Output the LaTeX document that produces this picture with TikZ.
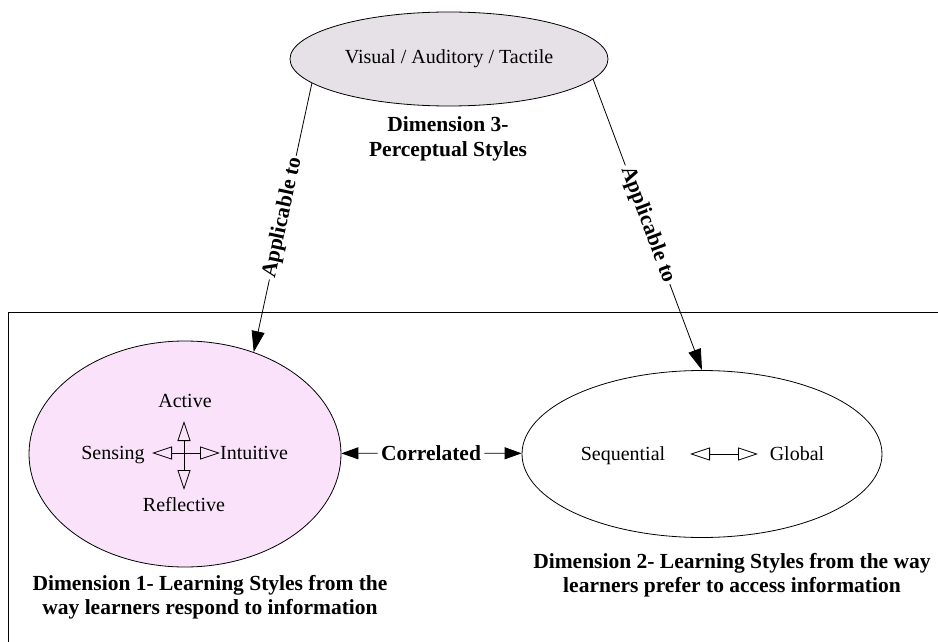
\documentclass[tikz,border=0pt]{standalone}
\usepackage{fontspec}
\setmainfont{Liberation Serif}
\usetikzlibrary{shapes.geometric,arrows.meta}

\definecolor{greyfill}{RGB}{230,225,230}
\definecolor{pinkfill}{RGB}{250,226,250}

\tikzset{
  concept/.style={ellipse, draw, line width=0.8pt, inner sep=0pt},
  caption/.style={font=\fontsize{21.5}{24.5}\selectfont\bfseries, align=center},
  term/.style={font=\fontsize{20}{24}\selectfont, text height=13.5pt, text depth=4.5pt},
  link/.style={line width=0.8pt, -{Triangle[length=21pt,width=13pt]}},
  shortlink/.style={line width=0.8pt, -{Triangle[length=17pt,width=12pt]}},
  pair/.style={line width=0.8pt,
    {Triangle[open,length=20pt,width=13pt]}-{Triangle[open,length=20pt,width=13pt]}}
}

\begin{document}
\begin{tikzpicture}[x=1pt,y=-1pt]
  \useasboundingbox (0,0) rectangle (938,642);

  % frame round dimensions 1 and 2
  \draw [line width=0.9pt] (8,642) |- (938,312);

  % dimension 3
  \node (vat) [concept, fill=greyfill, minimum width=318pt, minimum height=94pt, term]
    at (449,59) {Visual / Auditory / Tactile};
  \node (dim3) [caption] at (448,139) {Dimension 3-\\Perceptual Styles};

  % dimension 1
  \node (dim1) [concept, fill=pinkfill, minimum width=312pt, minimum height=226pt] at (185,454) {};
  \coordinate (crossW) at (152,453);
  \coordinate (crossE) at (220,453);
  \coordinate (crossN) at (184,421);
  \coordinate (crossS) at (184,490);
  \draw [pair] (crossW) -- (crossE);
  \draw [pair] (crossN) -- (crossS);
  \node (active) [term] at (185,403) {Active};
  \node (sensing) [term] at (113,455) {Sensing};
  \node (intuitive) [term] at (254,455) {Intuitive};
  \node (reflective) [term] at (184,507) {Reflective};
  \node (dim1label) [caption] at (210,597)
    {Dimension 1- Learning Styles from the\\way learners respond to information};

  % dimension 2
  \node (dim2) [concept, minimum width=360pt, minimum height=167pt] at (702,454) {};
  \coordinate (seqW) at (690,454);
  \coordinate (seqE) at (758,454);
  \draw [pair] (seqW) -- (seqE);
  \node (sequential) [term] at (623,456) {Sequential};
  \node (global) [term] at (797,456) {Global};
  \node (dim2label) [caption] at (732,575)
    {Dimension 2- Learning Styles from the way\\learners prefer to access information};

  % links
  \node (corr) [caption] at (431,453) {Correlated};
  \draw [shortlink] (corr) -- (dim1);
  \draw [shortlink] (corr) -- (dim2);

  \draw [link] (vat.190) -- node [caption, sloped, fill=white, inner sep=2pt] {Applicable to} (dim1.56);
  \draw [link] (vat.352) -- node [caption, sloped, fill=white, inner sep=2pt] {Applicable to} (dim2.north);
\end{tikzpicture}
\end{document}
